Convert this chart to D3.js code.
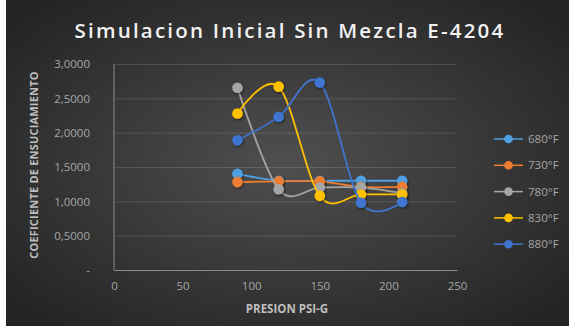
<!DOCTYPE html>
<html><head><meta charset="utf-8">
<script src="https://cdn.jsdelivr.net/npm/d3@7"></script>
<style>html,body{margin:0;padding:0;background:#fff;}svg{display:block;}</style>
</head><body>
<svg id="c" width="569" height="334"></svg>
<script>
const xValues = [90, 120, 150, 180, 210];
const seriesNames = ["680°F", "730°F", "780°F", "830°F", "880°F"];
const s680 = [1.40, 1.30, 1.30, 1.30, 1.30];
const s730 = [1.28, 1.29, 1.29, 1.21, 1.21];
const s780 = [2.655, 1.175, 1.20, 1.20, 1.12];
const s830 = [2.28, 2.67, 1.08, 1.10, 1.10];
const s880 = [1.89, 2.23, 2.73, 0.98, 0.99];
const seriesColors = ["#4fa0e3", "#ed7d31", "#a5a5a5", "#ffc000", "#3f74cf"];
const xTicks = [0, 50, 100, 150, 200, 250];
const yTicks = [0, 0.5, 1.0, 1.5, 2.0, 2.5, 3.0];
const titleText = "Simulacion Inicial Sin Mezcla E-4204";
const xTitle = "PRESION PSI-G";
const yTitle = "COEFICIENTE DE ENSUCIAMIENTO";

const allSeries = [s680, s730, s780, s830, s880];
const svg = d3.select("#c");
const defs = svg.append("defs");
const rg = defs.append("radialGradient").attr("id", "bg")
  .attr("cx", "50%").attr("cy", "50%").attr("r", "65%");
rg.append("stop").attr("offset", "0%").attr("stop-color", "#4f4f4f");
rg.append("stop").attr("offset", "100%").attr("stop-color", "#242424");
const f = defs.append("filter").attr("id", "sh").attr("x", "-50%").attr("y", "-50%").attr("width", "200%").attr("height", "200%");
f.append("feDropShadow").attr("dx", 0.8).attr("dy", 1.2).attr("stdDeviation", 0.9).attr("flood-color", "#000").attr("flood-opacity", 0.55);

svg.append("rect").attr("x", 6).attr("y", 0).attr("width", 563).attr("height", 326).attr("fill", "url(#bg)");

const x = d3.scaleLinear().domain([0, 250]).range([114, 457]);
const y = d3.scaleLinear().domain([0, 3]).range([270, 64]);
const font = "'Open Sans', sans-serif";

// gridlines
const yAxis = d3.axisLeft(y).tickValues(yTicks).tickSize(-(x(250) - x(0)))
  .tickFormat(d => d === 0 ? "-" : d3.format(".4f")(d).replace(".", ","));
const gy = svg.append("g").attr("transform", `translate(${x(0)},0)`).call(yAxis);
gy.select(".domain").remove();
gy.selectAll(".tick line").attr("stroke", "#ffffff").attr("stroke-opacity", 0.13).attr("stroke-width", 1);
gy.selectAll(".tick text").attr("x", -24).attr("fill", "#a6a6a6")
  .style("font-family", font).style("font-size", "11.5px");
gy.selectAll(".tick").filter(d => d === 0).select("line").attr("stroke-opacity", 0.35);

const xAxis = d3.axisBottom(x).tickValues(xTicks).tickSize(0).tickFormat(d3.format("d"));
const gx = svg.append("g").attr("transform", `translate(0,${y(0)})`).call(xAxis);
gx.select(".domain").attr("stroke", "#8a8a8a").attr("stroke-width", 1);
gx.selectAll(".tick text").attr("y", 12).attr("fill", "#a6a6a6")
  .style("font-family", font).style("font-size", "11.5px");
svg.append("line").attr("x1", x(0)).attr("x2", x(0)).attr("y1", y(0)).attr("y2", y(3))
  .attr("stroke", "#8a8a8a").attr("stroke-width", 1);

// lines
const line = d3.line().x((d, i) => x(xValues[i])).y(d => y(d)).curve(d3.curveCardinal.tension(0));
const plot = svg.append("g");
allSeries.forEach((s, k) => {
  const g = plot.append("g");
  g.append("path").datum(s).attr("d", line).attr("fill", "none")
    .attr("stroke", seriesColors[k]).attr("stroke-width", 1.8);
  g.selectAll("circle").data(s).join("circle")
    .attr("cx", (d, i) => x(xValues[i])).attr("cy", d => y(d)).attr("r", 5.3)
    .attr("fill", seriesColors[k]).attr("filter", "url(#sh)");
});

// title
svg.append("text").attr("x", 290).attr("y", 38).attr("text-anchor", "middle")
  .attr("fill", "#f2f2f2").style("font-family", font).style("font-weight", 600)
  .style("font-size", "20.5px").style("letter-spacing", "2.2px").text(titleText);

svg.append("text").attr("x", 287).attr("y", 313).attr("text-anchor", "middle")
  .attr("fill", "#bfbfbf").style("font-family", font).style("font-weight", 700)
  .style("font-size", "11.5px").text(xTitle);

svg.append("text").attr("transform", "translate(38,165) rotate(-90)").attr("text-anchor", "middle")
  .attr("fill", "#bfbfbf").style("font-family", font).style("font-weight", 700)
  .style("font-size", "11px").style("letter-spacing", "0.2px").text(yTitle);

// legend
const lg = svg.append("g");
seriesNames.forEach((n, k) => {
  const ly = 139 + k * 26.3;
  lg.append("line").attr("x1", 494).attr("x2", 523).attr("y1", ly).attr("y2", ly)
    .attr("stroke", seriesColors[k]).attr("stroke-width", 1.5);
  lg.append("circle").attr("cx", 508.5).attr("cy", ly).attr("r", 4.3).attr("fill", seriesColors[k]);
  lg.append("text").attr("x", 528).attr("y", ly + 4).attr("fill", "#a6a6a6")
    .style("font-family", font).style("font-size", "11.5px").text(n);
});
</script>
</body></html>
